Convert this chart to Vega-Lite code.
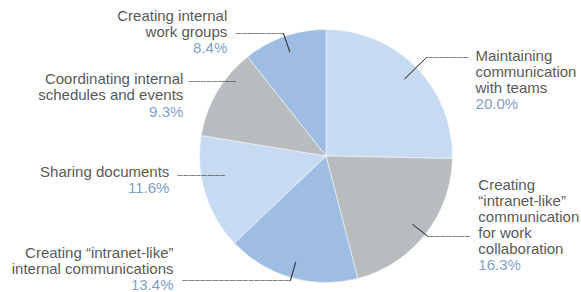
{
  "$schema": "https://vega.github.io/schema/vega-lite/v6.json",
  "width": 500,
  "height": 270,
  "autosize": {"type": "none"},
  "padding": {"left": 76, "top": 21, "right": 5, "bottom": 1},
  "background": "white",
  "config": {"view": {"stroke": null}},
  "data": {
    "values": [
      {"category": "Maintaining communication with teams", "label": "Maintaining\ncommunication\nwith teams", "value": 20.0, "pct": "20.0%"},
      {"category": "Creating “intranet-like” communication for work collaboration", "label": "Creating\n“intranet-like”\ncommunication\nfor work\ncollaboration", "value": 16.3, "pct": "16.3%"},
      {"category": "Creating “intranet-like” internal communications", "label": "Creating “intranet-like”\ninternal communications", "value": 13.4, "pct": "13.4%"},
      {"category": "Sharing documents", "label": "Sharing documents", "value": 11.6, "pct": "11.6%"},
      {"category": "Coordinating internal schedules and events", "label": "Coordinating internal\nschedules and events", "value": 9.3, "pct": "9.3%"},
      {"category": "Creating internal work groups", "label": "Creating internal\nwork groups", "value": 8.4, "pct": "8.4%"}
    ]
  },
  "encoding": {
    "theta": {"field": "value", "type": "quantitative", "stack": true},
    "order": {"field": "value", "type": "quantitative", "sort": "descending"},
    "detail": {"field": "category", "type": "nominal"}
  },
  "layer": [
    {
      "mark": {"type": "arc", "outerRadius": 126.5, "stroke": "#ffffff", "strokeWidth": 0.5},
      "encoding": {
        "color": {
          "field": "category", "type": "nominal", "legend": null,
          "scale": {
            "domain": ["Maintaining communication with teams", "Creating “intranet-like” communication for work collaboration", "Creating “intranet-like” internal communications", "Sharing documents", "Coordinating internal schedules and events", "Creating internal work groups"],
            "range": ["#c6dbf1", "#b9bcbe", "#9ebde3", "#c6dbf1", "#b9bcbe", "#9ebde3"]
          }
        }
      }
    },
    {
      "mark": {"type": "arc", "innerRadius": 110, "outerRadius": 130, "padAngle": 3, "fillOpacity": 0, "stroke": "#333333", "strokeWidth": 0.8},
      "encoding": {"strokeOpacity": {"condition": {"test": "datum.value == 16.3 || datum.value == 13.4 || datum.value == 8.4", "value": 1}, "value": 0}}
    },
    {
      "mark": {"type": "arc", "innerRadius": 110, "outerRadius": 141, "padAngle": 3, "fillOpacity": 0, "stroke": "#333333", "strokeWidth": 0.8},
      "encoding": {"strokeOpacity": {"condition": {"test": "datum.value == 20", "value": 1}, "value": 0}}
    },
    {
      "mark": {"type": "text", "radius": 130, "align": "left", "baseline": "alphabetic", "dx": 7.9, "dy": -4.2, "font": "DejaVu Sans Mono", "fontSize": 10, "fill": "#333333"},
      "encoding": {"text": {"condition": {"test": "datum.value == 20", "value": "┄┄┄┄┄┄┄"}, "value": ""}}
    },
    {
      "mark": {"type": "text", "radius": 130, "align": "left", "baseline": "alphabetic", "dx": 0, "dy": 3.5, "font": "DejaVu Sans Mono", "fontSize": 10, "fill": "#333333"},
      "encoding": {"text": {"condition": {"test": "datum.value == 16.3", "value": "┄┄┄┄┄┄┄"}, "value": ""}}
    },
    {
      "mark": {"type": "text", "radius": 130, "align": "right", "baseline": "alphabetic", "dx": 0, "dy": 3.5, "font": "DejaVu Sans Mono", "fontSize": 10, "fill": "#333333"},
      "encoding": {"text": {"condition": {"test": "datum.value == 13.4", "value": "┄┄┄┄┄┄┄┄┄┄┄┄┄┄┄┄┄┄"}, "value": ""}}
    },
    {
      "mark": {"type": "text", "radius": 130, "align": "left", "baseline": "alphabetic", "dx": -24.7, "dy": -15.7, "font": "DejaVu Sans Mono", "fontSize": 10, "fill": "#333333"},
      "encoding": {"text": {"condition": {"test": "datum.value == 11.6", "value": "┄┄┄┄┄┄┄┄"}, "value": ""}}
    },
    {
      "mark": {"type": "text", "radius": 130, "align": "left", "baseline": "alphabetic", "dx": -25.7, "dy": -5.2, "font": "DejaVu Sans Mono", "fontSize": 10, "fill": "#333333"},
      "encoding": {"text": {"condition": {"test": "datum.value == 9.3", "value": "┄┄┄┄┄┄┄┄"}, "value": ""}}
    },
    {
      "mark": {"type": "text", "radius": 130, "align": "right", "baseline": "alphabetic", "dx": 0, "dy": 3.5, "font": "DejaVu Sans Mono", "fontSize": 10, "fill": "#333333"},
      "encoding": {"text": {"condition": {"test": "datum.value == 8.4", "value": "┄┄┄┄┄┄┄┄"}, "value": ""}}
    },
    {
      "mark": {"type": "text", "radius": 130, "align": "left", "baseline": "alphabetic", "dx": 56.7, "dy": -4.0, "font": "Liberation Sans", "fontSize": 15, "lineHeight": 16, "lineBreak": "\n", "fill": "#595959"},
      "encoding": {"text": {"condition": {"test": "datum.value == 20", "field": "label", "type": "nominal"}, "value": ""}}
    },
    {
      "mark": {"type": "text", "radius": 130, "align": "left", "baseline": "alphabetic", "dx": 56.7, "dy": 44.0, "font": "Liberation Sans", "fontSize": 15, "fill": "#7f9fcc"},
      "encoding": {"text": {"condition": {"test": "datum.value == 20", "field": "pct", "type": "nominal"}, "value": ""}}
    },
    {
      "mark": {"type": "text", "radius": 130, "align": "left", "baseline": "alphabetic", "dx": 50.3, "dy": -46.5, "font": "Liberation Sans", "fontSize": 15, "lineHeight": 16, "lineBreak": "\n", "fill": "#595959"},
      "encoding": {"text": {"condition": {"test": "datum.value == 16.3", "field": "label", "type": "nominal"}, "value": ""}}
    },
    {
      "mark": {"type": "text", "radius": 130, "align": "left", "baseline": "alphabetic", "dx": 50.3, "dy": 33.5, "font": "Liberation Sans", "fontSize": 15, "fill": "#7f9fcc"},
      "encoding": {"text": {"condition": {"test": "datum.value == 16.3", "field": "pct", "type": "nominal"}, "value": ""}}
    },
    {
      "mark": {"type": "text", "radius": 130, "align": "right", "baseline": "alphabetic", "dx": -116.8, "dy": -22.7, "font": "Liberation Sans", "fontSize": 15, "lineHeight": 16, "lineBreak": "\n", "fill": "#595959"},
      "encoding": {"text": {"condition": {"test": "datum.value == 13.4", "field": "label", "type": "nominal"}, "value": ""}}
    },
    {
      "mark": {"type": "text", "radius": 130, "align": "right", "baseline": "alphabetic", "dx": -116.8, "dy": 9.3, "font": "Liberation Sans", "fontSize": 15, "fill": "#7f9fcc"},
      "encoding": {"text": {"condition": {"test": "datum.value == 13.4", "field": "pct", "type": "nominal"}, "value": ""}}
    },
    {
      "mark": {"type": "text", "radius": 130, "align": "right", "baseline": "alphabetic", "dx": -32.4, "dy": -16.9, "font": "Liberation Sans", "fontSize": 15, "lineHeight": 16, "lineBreak": "\n", "fill": "#595959"},
      "encoding": {"text": {"condition": {"test": "datum.value == 11.6", "field": "label", "type": "nominal"}, "value": ""}}
    },
    {
      "mark": {"type": "text", "radius": 130, "align": "right", "baseline": "alphabetic", "dx": -32.4, "dy": -0.9, "font": "Liberation Sans", "fontSize": 15, "fill": "#7f9fcc"},
      "encoding": {"text": {"condition": {"test": "datum.value == 11.6", "field": "pct", "type": "nominal"}, "value": ""}}
    },
    {
      "mark": {"type": "text", "radius": 130, "align": "right", "baseline": "alphabetic", "dx": -30.7, "dy": -6.0, "font": "Liberation Sans", "fontSize": 15, "lineHeight": 16, "lineBreak": "\n", "fill": "#595959"},
      "encoding": {"text": {"condition": {"test": "datum.value == 9.3", "field": "label", "type": "nominal"}, "value": ""}}
    },
    {
      "mark": {"type": "text", "radius": 130, "align": "right", "baseline": "alphabetic", "dx": -30.7, "dy": 26.6, "font": "Liberation Sans", "fontSize": 15, "fill": "#7f9fcc"},
      "encoding": {"text": {"condition": {"test": "datum.value == 9.3", "field": "pct", "type": "nominal"}, "value": ""}}
    },
    {
      "mark": {"type": "text", "radius": 130, "align": "right", "baseline": "alphabetic", "dx": -56.1, "dy": -12.5, "font": "Liberation Sans", "fontSize": 15, "lineHeight": 16, "lineBreak": "\n", "fill": "#595959"},
      "encoding": {"text": {"condition": {"test": "datum.value == 8.4", "field": "label", "type": "nominal"}, "value": ""}}
    },
    {
      "mark": {"type": "text", "radius": 130, "align": "right", "baseline": "alphabetic", "dx": -56.1, "dy": 20.1, "font": "Liberation Sans", "fontSize": 15, "fill": "#7f9fcc"},
      "encoding": {"text": {"condition": {"test": "datum.value == 8.4", "field": "pct", "type": "nominal"}, "value": ""}}
    }
  ]
}
